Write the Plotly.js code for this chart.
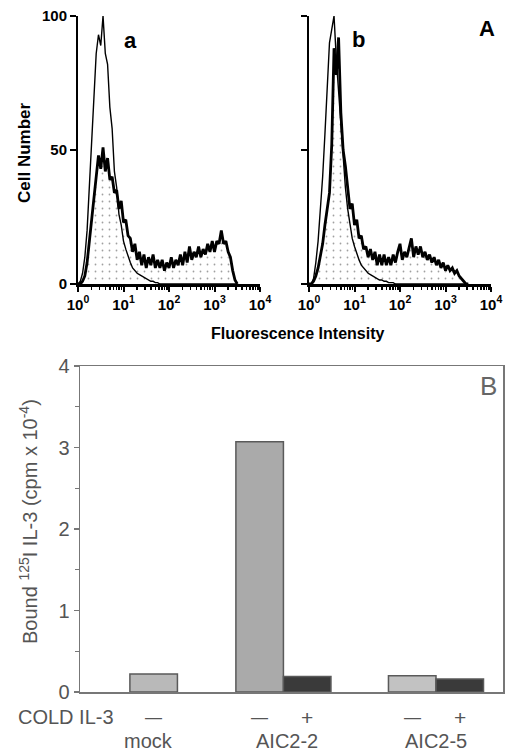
<!DOCTYPE html>
<html>
<head>
<meta charset="utf-8">
<script src="https://cdn.plot.ly/plotly-3.0.1.min.js"></script>
<style>html,body{margin:0;padding:0;background:#fff;}#chart{width:505px;height:751px;}</style>
</head>
<body>
<div id="chart"></div>
<script>
// ---- Panel A data (fluorescence histograms, x in log10 decades) ----
const bins = [0,0.05,0.1,0.15,0.2,0.25,0.3,0.35,0.4,0.45,0.5,0.55,0.6,0.65,0.7,0.75,0.8,0.85,0.9,0.95,
  1,1.05,1.1,1.15,1.2,1.25,1.3,1.35,1.4,1.45,1.5,1.55,1.6,1.65,1.7,1.75,1.8,1.85,1.9,1.95,
  2,2.05,2.1,2.15,2.2,2.25,2.3,2.35,2.4,2.45,2.5,2.55,2.6,2.65,2.7,2.75,2.8,2.85,2.9,2.95,
  3,3.05,3.1,3.15,3.2,3.25,3.3,3.35,3.4,3.45,3.5];
const controlA = [0,1,4,10,20,36,56,72,86,93, 89,100,86,82,66,58,42,36,26,22,
  16,13,10,8,6,5,4,3.5,3,2.5, 2,1.5,1,1,0.5,0.5,0,0,0,0,
  0,0,0,0,0,0,0,0,0,0, 0,0,0,0,0,0,0,0,0,0, 0,0,0,0,0,0,0,0,0,0, 0];
const sampleA = [0,0,1,3,8,16,25,33,42,48, 43,51,42,47,39,40,34,35,28,31,
  23,24,18,17,12,15,9,12,7,11, 6,10,7,11,6,9,6,9,5,8,
  6,10,6,9,7,11,7,12,8,14, 9,12,10,14,10,13,11,15,12,16,
  12,16,15,20,15,16,12,10,5,1.5, 0];
const controlB = [0,0,2,8,16,27,40,56,76,90, 95,100,84,72,58,46,36,28,22,17,
  14,11,9,7,6,5,4,3.5,3,2.5, 2,1.5,1.5,1,1,0.5,0.5,0.5,0,0,
  0,0,0,0,0,0,0,0,0,0, 0,0,0,0,0,0,0,0,0,0, 0,0,0,0,0,0,0,0,0,0, 0];
const sampleB = [0,0,1,3,6,10,15,22,28,34, 52,88,78,92,64,50,44,36,28,30,
  22,24,17,18,13,14,10,13,9,12, 7,11,7,11,7,10,7,11,8,12,
  15,9,12,10,13,17,10,14,11,14, 10,12,9,11,8,10,7,9,6,8,
  5,7,5,6,4,5,3,2,1,0, 0];
const decadeTicks = [0,1,2,3,4];
const decadeLabels = ['10<sup>0</sup>','10<sup>1</sup>','10<sup>2</sup>','10<sup>3</sup>','10<sup>4</sup>'];
const cellTicks = [0,50,100];

// ---- Panel B data (bound 125I IL-3) ----
const barPos = [1.55, 3.78, 4.78, 6.99, 7.99];
const barVals = [0.22, 3.07, 0.19, 0.20, 0.16];
const barColors = ['#b9b9b9', '#aaaaaa', '#3a3a3a', '#c2c2c2', '#3a3a3a'];
const coldSigns = ['—', '—', '+', '—', '+'];
const groupNames = ['mock', 'AIC2-2', 'AIC2-5'];
const groupPos = [1.45, 4.35, 7.49];

const FONT = 'Liberation Sans, Arial, Helvetica, sans-serif';
const W = 505, H = 751;
const px = v => v / W;
const py = v => (H - v) / H;

// minor log ticks (positions of 2..9 within each decade)
const minorVals = [];
for (let d = 0; d < 4; d++) for (let k = 2; k <= 9; k++) minorVals.push(d + Math.log10(k));

const pattern = {shape: '.', fgcolor: '#a0a0a0', bgcolor: '#ffffff', size: 7, solidity: 0.05};

const traces = [
  {x: bins, y: sampleA, xaxis: 'x', yaxis: 'y', type: 'scatter', mode: 'lines', fill: 'tozeroy',
   fillpattern: pattern, fillcolor: '#ffffff', line: {color: '#000', width: 2.8}, hoverinfo: 'skip'},
  {x: bins, y: controlA, xaxis: 'x', yaxis: 'y', type: 'scatter', mode: 'lines',
   line: {color: '#000', width: 1.4}, hoverinfo: 'skip'},
  {x: bins, y: sampleB, xaxis: 'x2', yaxis: 'y2', type: 'scatter', mode: 'lines', fill: 'tozeroy',
   fillpattern: pattern, fillcolor: '#ffffff', line: {color: '#000', width: 2.8}, hoverinfo: 'skip'},
  {x: bins, y: controlB, xaxis: 'x2', yaxis: 'y2', type: 'scatter', mode: 'lines',
   line: {color: '#000', width: 1.4}, hoverinfo: 'skip'},
  {x: barPos, y: barVals, xaxis: 'x3', yaxis: 'y3', type: 'bar', width: 1,
   marker: {color: barColors, line: {color: '#5a5a5a', width: 1.5}}, hoverinfo: 'skip'}
];

const histX = (dom) => ({
  domain: dom, range: [0, 4], showgrid: false, zeroline: false, showline: true,
  linecolor: '#000', linewidth: 2.5, ticks: 'outside', ticklen: 5, tickwidth: 2, tickcolor: '#000',
  tickmode: 'array', tickvals: decadeTicks, ticktext: decadeLabels,
  tickfont: {family: FONT, size: 15, color: '#000', weight: 'bold'},
  minor: {tickmode: 'array', tickvals: minorVals, ticks: 'outside', ticklen: 3, tickwidth: 1.5, tickcolor: '#000', showgrid: false},
  fixedrange: true
});
const histY = (showLabels) => ({
  domain: [py(284), py(16)], range: [0, 100], showgrid: false, zeroline: false, showline: true,
  linecolor: '#000', linewidth: 2, ticks: 'outside', ticklen: 6, tickwidth: 2, tickcolor: '#000',
  tickmode: 'array', tickvals: cellTicks, showticklabels: showLabels,
  tickfont: {family: FONT, size: 15, color: '#000', weight: 'bold'}, fixedrange: true
});

const ann = (o) => Object.assign({xref: 'paper', yref: 'paper', xanchor: 'center', yanchor: 'middle', showarrow: false}, o);
const annotations = [
  ann({text: 'Cell Number', x: px(24), y: py(153), textangle: -90,
   font: {family: FONT, size: 17, color: '#000', weight: 'bold'}}),
  ann({text: 'Fluorescence Intensity', x: px(297), y: py(333),
   font: {family: FONT, size: 16, color: '#000', weight: 'bold'}}),
  ann({text: 'a', x: px(130), y: py(40), font: {family: FONT, size: 22, color: '#000', weight: 'bold'}}),
  ann({text: 'b', x: px(358), y: py(39), font: {family: FONT, size: 22, color: '#000', weight: 'bold'}}),
  ann({text: 'A', x: px(487), y: py(28), font: {family: FONT, size: 22, color: '#000', weight: 'bold'}}),
  ann({text: 'B', x: px(488), y: py(386), font: {family: FONT, size: 26, color: '#666'}}),
  ann({text: 'Bound <sup>125</sup>I IL-3 (cpm x 10<sup>-4</sup>)', x: px(28), y: py(522), textangle: -90,
   font: {family: FONT, size: 20, color: '#555'}}),
  ann({text: 'COLD IL-3', x: px(66), y: py(717), font: {family: FONT, size: 20, color: '#555'}})
];
coldSigns.forEach((s, i) => annotations.push(ann({text: s, x: barPos[i], y: py(717), xref: 'x3',
  font: {family: FONT, size: s === '+' ? 21 : 17, color: '#555'}})));
groupNames.forEach((g, i) => annotations.push(ann({text: g, x: groupPos[i], y: py(741), xref: 'x3',
  font: {family: FONT, size: 20, color: '#555'}})));

const layout = {
  width: W, height: H, margin: {l: 0, r: 0, t: 0, b: 0}, showlegend: false,
  paper_bgcolor: '#fff', plot_bgcolor: 'rgba(0,0,0,0)',
  xaxis: Object.assign(histX([px(78), px(260)]), {anchor: 'y'}),
  yaxis: Object.assign(histY(true), {anchor: 'x'}),
  xaxis2: Object.assign(histX([px(309), px(491)]), {anchor: 'y2'}),
  yaxis2: Object.assign(histY(false), {anchor: 'x2'}),
  xaxis3: {domain: [px(80), px(503)], range: [0, 8.9], anchor: 'y3', showgrid: false, zeroline: false,
    showline: true, mirror: true, linecolor: '#777', linewidth: 1.5, ticks: '', showticklabels: false, fixedrange: true},
  yaxis3: {domain: [py(692), py(366)], range: [0, 4], anchor: 'x3', showgrid: false, zeroline: false,
    showline: true, mirror: true, linecolor: '#777', linewidth: 1.5, ticks: 'outside', ticklen: 5, tickwidth: 1.5,
    tickcolor: '#777', tickvals: [0,1,2,3,4], tickfont: {family: FONT, size: 20, color: '#555'},
    minor: {dtick: 0.5, ticks: 'outside', ticklen: 4, tickwidth: 1.2, tickcolor: '#777', showgrid: false}, fixedrange: true},
  annotations: annotations
};

Plotly.newPlot('chart', traces, layout, {displayModeBar: false, staticPlot: true});
</script>
</body>
</html>
